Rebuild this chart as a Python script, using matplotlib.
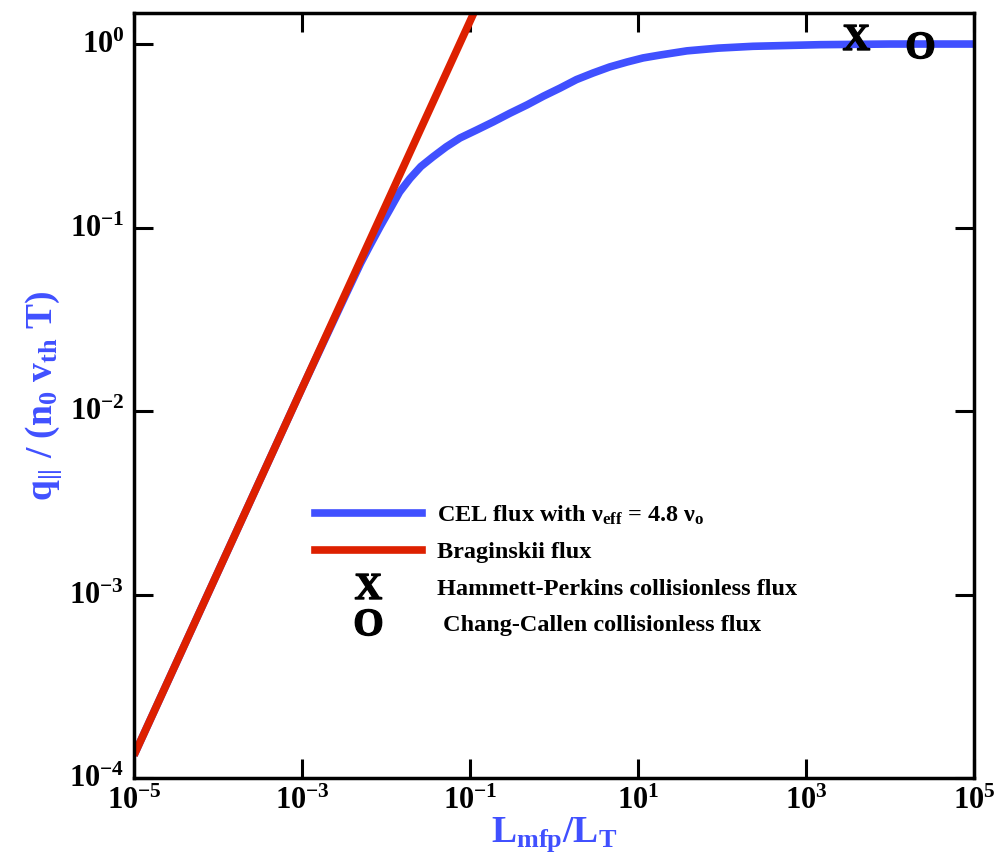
import matplotlib
matplotlib.use('Agg')
import matplotlib.pyplot as plt
import matplotlib.transforms as mtransforms
from matplotlib.lines import Line2D

plt.rcParams['font.family'] = ['Liberation Serif', 'DejaVu Serif']
plt.rcParams['font.weight'] = 'bold'
plt.rcParams['mathtext.fontset'] = 'custom'
plt.rcParams['mathtext.rm'] = 'Liberation Serif:bold'
plt.rcParams['mathtext.it'] = 'Liberation Serif:bold'
plt.rcParams['mathtext.bf'] = 'Liberation Serif:bold'

# CEL flux
cel_x = [1e-5, 1e-4, 1e-3, 3.16e-3, 5.0e-3, 6.46e-3, 8.5e-3, 1.117e-2, 1.45e-2, 1.93e-2,
         2.6e-2, 3.63e-2, 5.2e-2, 7.6e-2, 0.12, 0.188, 0.30, 0.478, 0.75, 1.178,
         1.85, 2.91, 4.6, 7.4, 11.5, 18.3, 38.3, 90.0, 234.0, 1.48e3, 1e4, 1e5]
cel_y = [1.33e-4, 1.33e-3, 1.33e-2, 0.0410, 0.0640, 0.0800, 0.1010, 0.1260, 0.1560, 0.1850,
         0.2150, 0.2430, 0.2750, 0.3076, 0.340, 0.376, 0.420, 0.466, 0.520, 0.575,
         0.640, 0.695, 0.750, 0.798, 0.840, 0.871, 0.918, 0.950, 0.972, 0.992, 1.0, 1.0]

# Braginskii flux
brag_x = [1e-5, 1e-3, 1e-1, 0.2]
brag_y = [1.33e-4, 1.33e-2, 1.33, 2.66]

# collisionless limits
hp_x, hp_y = [3.9e3], [1.09]
cc_x, cc_y = [2.3e4], [0.99]

blue = '#4050ff'
red = '#dd2000'

fig = plt.figure(figsize=(9.97, 8.56), dpi=100)
ax = fig.add_axes([0.1344, 0.0911, 0.8425, 0.8937])

ax.plot(cel_x, cel_y, color=blue, lw=5.5, solid_capstyle='butt', solid_joinstyle='round')
ax.plot(brag_x, brag_y, color=red, lw=5.5, solid_capstyle='butt')
ax.plot(hp_x, hp_y, ls='none', marker=r'$\mathbf{X}$', ms=19, color='black')
ax.plot(cc_x, cc_y, ls='none', marker=r'$\mathbf{O}$', ms=19, color='black')

ax.set_xscale('log')
ax.set_yscale('log')
ax.set_xlim(1e-5, 1e5)
ax.set_ylim(1e-4, 1.476)

xt = [1e-5, 1e-3, 1e-1, 1e1, 1e3, 1e5]
ax.set_xticks(xt)
ax.set_xticklabels([r'$\mathbf{10^{%d}}$' % e for e in [-5, -3, -1, 1, 3, 5]])
yt = [1e-4, 1e-3, 1e-2, 1e-1, 1e0]
ax.set_yticks(yt)
ax.set_yticklabels([r'$\mathbf{10^{%d}}$' % e for e in [-4, -3, -2, -1, 0]])
ax.minorticks_off()
ax.tick_params(which='major', direction='in', length=14, width=2.2,
               top=True, right=True, labelsize=22)
ax.tick_params(axis='x', pad=6)
ax.tick_params(axis='y', pad=7)
for s in ax.spines.values():
    s.set_linewidth(2.5)

# nudge y tick labels up a little (digits sit low because of the superscript)
up = mtransforms.ScaledTranslation(0, 2 / 100, fig.dpi_scale_trans)
for lab in ax.get_yticklabels():
    lab.set_transform(lab.get_transform() + up)

ax.set_xlabel(r'L$_{mfp}$/L$_T$', color=blue, fontsize=27, fontweight='bold', labelpad=0)
ax.set_ylabel(r'q$_{||}$ / (n$_0$ v$_{th}$ T)', color=blue, fontsize=27,
              fontweight='bold', labelpad=4)

handles = [
    Line2D([], [], color=blue, lw=5.5),
    Line2D([], [], color=red, lw=5.5),
    Line2D([], [], ls='none', marker=r'$\mathbf{X}$', ms=19, color='black'),
    Line2D([], [], ls='none', marker=r'$\mathbf{O}$', ms=19, color='black'),
]
labels = [r'CEL flux with $\nu_{eff}$ = 4.8 $\nu_o$',
          'Braginskii flux',
          'Hammett-Perkins collisionless flux',
          ' Chang-Callen collisionless flux']
ax.legend(handles, labels, loc='upper left', frameon=False, fontsize=17.5,
          bbox_to_anchor=(315 / 997, 1 - 504 / 856), bbox_transform=fig.transFigure,
          borderpad=0, borderaxespad=0, handlelength=4.4, handletextpad=0.6,
          labelspacing=0.58)

fig.savefig('out.png', dpi=100)
